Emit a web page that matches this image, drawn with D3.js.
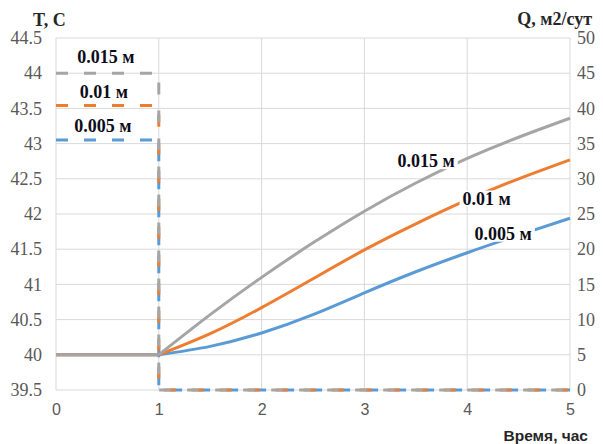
<!DOCTYPE html>
<html>
<head>
<meta charset="utf-8">
<script src="https://cdn.jsdelivr.net/npm/d3@7"></script>
<style>
  html, body { margin: 0; padding: 0; background: #fff; }
  svg { display: block; }
</style>
</head>
<body>
<svg id="chart" width="603" height="444"></svg>
<script>
// Time axis (hours) and temperature curves, one per thickness
const hours = [0, 1, 1.5, 2, 2.5, 3, 3.5, 4, 4.5, 5];
const temp005 = [40, 40, 40.12, 40.31, 40.57, 40.88, 41.18, 41.45, 41.7, 41.94];
const temp010 = [40, 40, 40.3, 40.67, 41.08, 41.49, 41.86, 42.2, 42.5, 42.77];
const temp015 = [40, 40, 40.57, 41.1, 41.59, 42.04, 42.44, 42.79, 43.09, 43.36];

// Flow rate Q (right axis): constant until hour 1, then zero
const flowHours = [0, 1, 1, 5];
const flow005 = [35.5, 35.5, 0, 0];
const flow010 = [40.4, 40.4, 0, 0];
const flow015 = [45, 45, 0, 0];

const seriesNames = ["0.005 м", "0.01 м", "0.015 м"];
const seriesColors = ["#5b9bd5", "#ed7d31", "#a5a5a5"];

const xTicks = [0, 1, 2, 3, 4, 5];
const tTicks = [39.5, 40, 40.5, 41, 41.5, 42, 42.5, 43, 43.5, 44, 44.5];
const qTicks = [0, 5, 10, 15, 20, 25, 30, 35, 40, 45, 50];

const svg = d3.select("#chart");
const plot = { left: 56, right: 570, top: 38, bottom: 390 };

const x = d3.scaleLinear().domain([0, 5]).range([plot.left, plot.right]);
const yT = d3.scaleLinear().domain([39.5, 44.5]).range([plot.bottom, plot.top]);
const yQ = d3.scaleLinear().domain([0, 50]).range([plot.bottom, plot.top]);

const serif = "'Liberation Serif', 'Times New Roman', serif";
const sans = "'Liberation Sans', Arial, sans-serif";
const tickColor = "#595959";

// Gridlines
const grid = svg.append("g");
grid.selectAll("line.h").data(tTicks).join("line")
  .attr("x1", plot.left).attr("x2", plot.right)
  .attr("y1", d => yT(d)).attr("y2", d => yT(d))
  .attr("stroke", "#d9d9d9").attr("stroke-width", 1);
grid.selectAll("line.v").data(xTicks).join("line")
  .attr("y1", plot.top).attr("y2", plot.bottom)
  .attr("x1", d => x(d)).attr("x2", d => x(d))
  .attr("stroke", "#d9d9d9").attr("stroke-width", 1);

// Axes (tick labels only)
const axisLeft = d3.axisLeft(yT).tickValues(tTicks).tickSize(0).tickPadding(14)
  .tickFormat(d => String(d));
const axisRight = d3.axisRight(yQ).tickValues(qTicks).tickSize(0).tickPadding(7)
  .tickFormat(d => String(d));
const axisBottom = d3.axisBottom(x).tickValues(xTicks).tickSize(0).tickPadding(14)
  .tickFormat(d => String(d));

function styleAxis(family, size) {
  return g => {
    g.attr("font-family", family);
    g.select(".domain").remove();
    g.selectAll("text")
      .attr("font-family", family)
      .attr("font-size", size)
      .attr("fill", tickColor);
  };
}
svg.append("g").attr("transform", `translate(${plot.left},0)`).call(axisLeft).call(styleAxis(serif, 18));
svg.append("g").attr("transform", `translate(${plot.right},0)`).call(axisRight).call(styleAxis(serif, 18));
svg.append("g").attr("transform", `translate(0,${plot.bottom})`).call(axisBottom).call(styleAxis(sans, 16));

// Axis titles
svg.append("text").attr("x", 33).attr("y", 26)
  .attr("font-family", serif).attr("font-weight", "bold").attr("font-size", 18)
  .attr("fill", "#262626").text("T, C");
svg.append("text").attr("x", 592).attr("y", 25).attr("text-anchor", "end")
  .attr("font-family", serif).attr("font-weight", "bold").attr("font-size", 18)
  .attr("fill", "#262626").text("Q, м2/сут");
svg.append("text").attr("x", 588).attr("y", 441).attr("text-anchor", "end")
  .attr("font-family", sans).attr("font-weight", "bold")
  .attr("font-size", 15.5).attr("fill", "#262626").text("Время, час");

// Flow-rate dashed lines
const flowSeries = [flow005, flow010, flow015];
const flowLine = d3.line().x(d => x(d[0])).y(d => yQ(d[1]));
flowSeries.forEach((vals, i) => {
  const pts = flowHours.map((h, j) => [h, vals[j]]);
  svg.append("path").attr("d", flowLine(pts))
    .attr("fill", "none").attr("stroke", seriesColors[i])
    .attr("stroke-width", 3).attr("stroke-dasharray", "12,16");
});

// Temperature curves: flat section, then smooth rise after hour 1
const tempSeries = [temp005, temp010, temp015];
const flatLine = d3.line().x(d => x(d[0])).y(d => yT(d[1]));
const riseLine = d3.line().x(d => x(d[0])).y(d => yT(d[1])).curve(d3.curveNatural);
tempSeries.forEach((vals, i) => {
  const pts = hours.map((h, j) => [h, vals[j]]);
  svg.append("path").attr("d", flatLine(pts.slice(0, 2)))
    .attr("fill", "none").attr("stroke", seriesColors[i]).attr("stroke-width", 3);
  svg.append("path").attr("d", riseLine(pts.slice(1)))
    .attr("fill", "none").attr("stroke", seriesColors[i]).attr("stroke-width", 3);
});

// Data labels
function label(text, cx, cy, boxed) {
  const g = svg.append("g");
  const t = g.append("text").attr("x", cx).attr("y", cy)
    .attr("text-anchor", "middle").attr("dominant-baseline", "central")
    .attr("font-family", serif).attr("font-weight", "bold")
    .attr("font-size", 18).attr("fill", "#0d0d1a").text(text);
  if (boxed) {
    const b = t.node().getBBox();
    g.insert("rect", "text")
      .attr("x", b.x - 3).attr("y", b.y + 2)
      .attr("width", b.width + 6).attr("height", b.height - 4)
      .attr("fill", "#fff");
  }
}
// Labels on the flow lines (over the flat part)
label(seriesNames[2], 106, yQ(flow015[0]) - 16, false);
label(seriesNames[1], 104, yQ(flow010[0]) - 14, false);
label(seriesNames[0], 103, yQ(flow005[0]) - 14, false);
// Labels on the temperature curves
label(seriesNames[2], x(3.6), yT(42.75), true);
label(seriesNames[1], x(4.19), yT(42.22), true);
label(seriesNames[0], x(4.35), yT(41.72), true);
</script>
</body>
</html>
